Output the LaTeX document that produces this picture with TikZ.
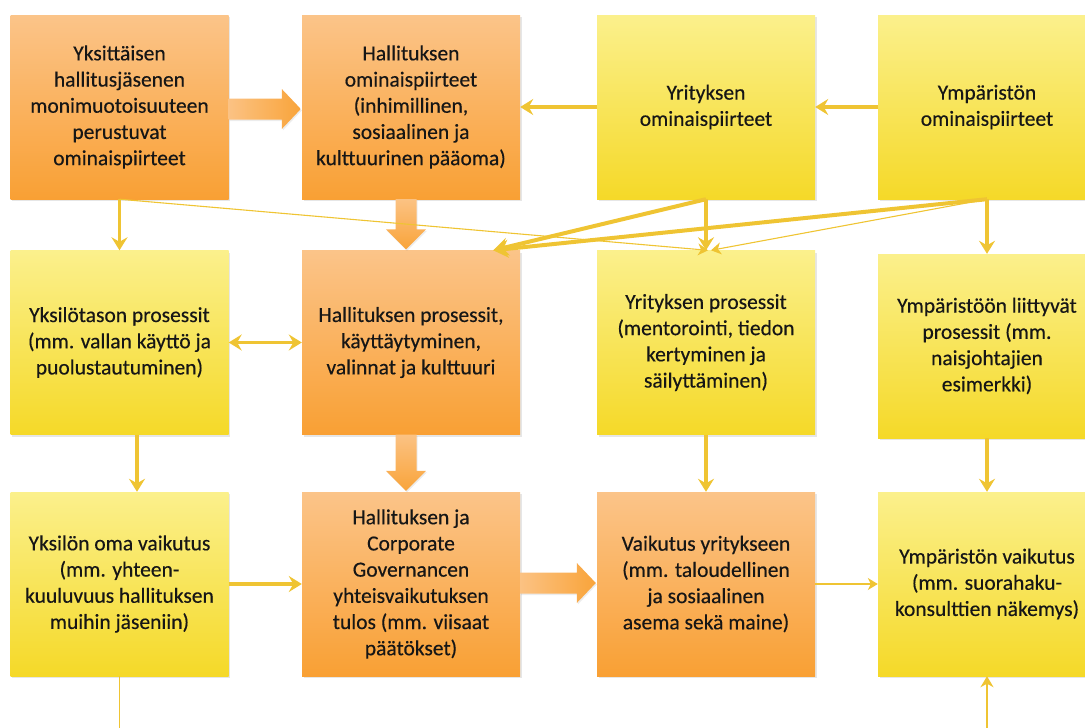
\documentclass[tikz,border=0pt]{standalone}
\usepackage{fontspec}
\setmainfont[FakeBold=0.35]{Carlito}
\usetikzlibrary{arrows.meta,calc,shadows}

\definecolor{orTop}{HTML}{FBC489}
\definecolor{orBot}{HTML}{F9A034}
\definecolor{yeTop}{HTML}{FBF08C}
\definecolor{yeBot}{HTML}{F5D928}
\definecolor{link}{HTML}{EFC433}
\definecolor{blkTail}{HTML}{FBC283}
\definecolor{blkHead}{HTML}{F9A43A}
\definecolor{ink}{HTML}{161616}

% horizontal block arrow: from node #1 to node #2, vertical offset #3
\newcommand\hblock[3]{%
  \shade[left color=blkTail, right color=blkHead, blkshadow]
    ($(#1.east)+(0,#3-10.5)$) -- ($(#2.west)+(-20,#3-10.5)$)
    -- ($(#2.west)+(-20,#3-20)$) -- ($(#2.west)+(-1,#3)$)
    -- ($(#2.west)+(-20,#3+20)$) -- ($(#2.west)+(-20,#3+10.5)$)
    -- ($(#1.east)+(0,#3+10.5)$) -- cycle;}
% vertical block arrow: from node #1 down to node #2, horizontal offset #3
\newcommand\vblock[3]{%
  \shade[top color=blkTail, bottom color=blkHead, blkshadow]
    ($(#1.south)+(#3-10.5,0)$) -- ($(#2.north)+(#3-10.5,-21)$)
    -- ($(#2.north)+(#3-20,-21)$) -- ($(#2.north)+(#3,-1)$)
    -- ($(#2.north)+(#3+20,-21)$) -- ($(#2.north)+(#3+10.5,-21)$)
    -- ($(#1.south)+(#3+10.5,0)$) -- cycle;}

\begin{document}
\begin{tikzpicture}[x=1pt,y=-1pt,
  box/.style={rectangle, minimum width=218pt, minimum height=184pt,
    inner sep=0pt, align=center, text=ink,
    font=\fontsize{21.5pt}{26.2pt}\selectfont,
    drop shadow={shadow xshift=1.5pt, shadow yshift=-2pt, opacity=0.2}},
  orbox/.style={box, top color=orTop, bottom color=orBot},
  yebox/.style={box, top color=yeTop, bottom color=yeBot},
  blkshadow/.style={drop shadow={shadow xshift=1pt, shadow yshift=-1.5pt, opacity=0.15}},
  conn/.style={draw=link, line width=3.2pt,
    -{Stealth[length=13pt,width=16pt,inset=4.5pt]}},
  twoway/.style={draw=link, line width=3.2pt,
    {Stealth[length=13pt,width=16pt,inset=4.5pt]}-{Stealth[length=13pt,width=16pt,inset=4.5pt]}},
  heavyconn/.style={draw=link, line width=4pt,
    -{Stealth[length=15pt,width=18pt,inset=5pt]}},
  fineconn/.style={draw=link, line width=1.1pt,
    -{Stealth[length=10pt,width=12pt,inset=3pt]}},
  loopconn/.style={draw=link, line width=1.8pt,
    -{Stealth[length=11pt,width=13pt,inset=3.5pt]}}
]
\useasboundingbox (0,0) rectangle (1085,728);
\clip (0,0) rectangle (1085,728);

% boxes, row by row
\node[orbox] (A1) at (119.5,107) {Yksittäisen\\hallitusjäsenen\\monimuotoisuuteen\\perustuvat\\ominaispiirteet};
\node[orbox] (A2) at (411,107) {Hallituksen\\ominaispiirteet\\(inhimillinen,\\sosiaalinen ja\\kulttuurinen pääoma)};
\node[yebox] (A3) at (706,107) {Yrityksen\\ominaispiirteet};
\node[yebox] (A4) at (987,107) {Ympäristön\\ominaispiirteet};

\node[yebox] (B1) at (119.5,342.5) {Yksilötason prosessit\\(mm. vallan käyttö ja\\puolustautuminen)};
\node[orbox] (B2) at (411,342.5) {Hallituksen prosessit,\\käyttäytyminen,\\valinnat ja kulttuuri};
\node[yebox] (B3) at (706,342.5) {Yrityksen prosessit\\(mentorointi, tiedon\\kertyminen ja\\säilyttäminen)};
\node[yebox] (B4) at (987,346) {Ympäristöön liittyvät\\prosessit (mm.\\naisjohtajien\\esimerkki)};

\node[yebox] (C1) at (119.5,584) {Yksilön oma vaikutus\\(mm. yhteen-\\kuuluvuus hallituksen\\muihin jäseniin)};
\node[orbox] (C2) at (411,584) {Hallituksen ja\\Corporate\\Governancen\\yhteisvaikutuksen\\tulos (mm. viisaat\\päätökset)};
\node[orbox] (C3) at (706,584) {Vaikutus yritykseen\\(mm. taloudellinen\\ja sosiaalinen\\asema sekä maine)};
\node[yebox] (C4) at (987,584) {Ympäristön vaikutus\\(mm. suorahaku-\\konsulttien näkemys)};

% main flow of the board
\hblock{A1}{A2}{2}
\vblock{A2}{B2}{-5}
\vblock{B2}{C2}{-5}
\hblock{C2}{C3}{-1}

% influences between the levels
\coordinate (B2in) at ($(B2.north east)+(-27,0)$);
\draw[conn] (A3.west) -- (A2.east);
\draw[conn] (A4.west) -- (A3.east);
\draw[conn] (A1.south) -- (B1.north);
\draw[fineconn] (A1.south) -- ([xshift=2pt]B3.north);
\draw[heavyconn] (A3.south) -- (B2in);
\draw[heavyconn] (A4.south) -- (B2in);
\draw[fineconn] (A4.south) -- ([xshift=5pt]B3.north);
\draw[conn] (A3.south) -- (B3.north);
\draw[conn] (A4.south) -- (B4.north);
\draw[twoway] (B1.east) -- (B2.west);
\draw[conn] ([xshift=17.5pt]B1.south) -- ([xshift=17.5pt]C1.north);
\draw[conn] (B3.south) -- (C3.north);
\draw[conn] (B4.south) -- (C4.north);
\draw[conn] (C1.east) -- (C2.west);
\draw[fineconn, line width=1.5pt] (C3.east) -- (C4.west);

% feedback loop running below the picture
\coordinate (loopL) at ([yshift=-80pt]C1.south);
\draw[loopconn] (C1.south) -- (loopL) -| (C4.south);
\end{tikzpicture}
\end{document}
